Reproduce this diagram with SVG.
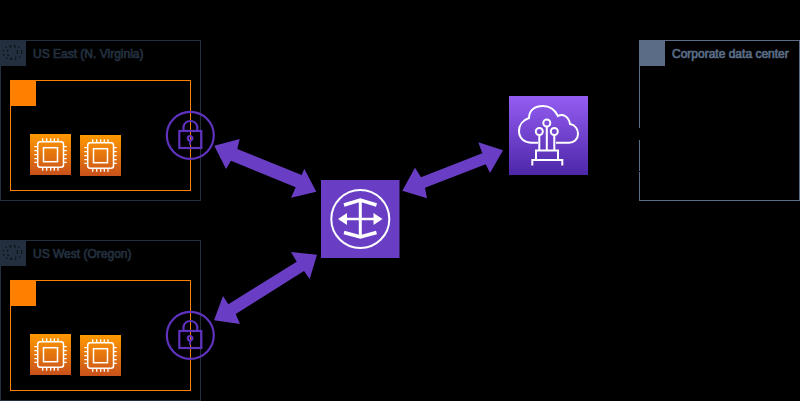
<svg xmlns="http://www.w3.org/2000/svg" width="800" height="401" viewBox="0 0 800 401">
<defs>
<linearGradient id="og" x1="0" y1="1" x2="0" y2="0"><stop offset="0" stop-color="#C8511B"/><stop offset="1" stop-color="#FF9900"/></linearGradient>
<linearGradient id="pg" x1="0" y1="1" x2="0" y2="0"><stop offset="0" stop-color="#4D27A8"/><stop offset="1" stop-color="#945DF2"/></linearGradient>
<g id="chip" fill="none" stroke="#fff">
<rect width="41" height="41" fill="url(#og)" stroke="none"/>
<rect x="7.700" y="7.700" width="25.800" height="25.500" rx="2.500" stroke-width="1.500"/>
<rect x="13.500" y="13.700" width="14" height="14" stroke-width="1.500"/>
<path d="M12.700 7V4.300M16.700 7V4.300M20.700 7V4.300M24.300 7V4.300M28 7V4.300M12.700 34V36.700M16.700 34V36.700M20.700 34V36.700M24.300 34V36.700M28 34V36.700M7 12.700H4.300M7 16.700H4.300M7 20.700H4.300M7 24.700H4.300M7 28.300H4.300M34 12.700H36.700M34 16.700H36.700M34 20.700H36.700M34 24.700H36.700M34 28.300H36.700" stroke-width="1.300"/>
</g>
<g id="lock" fill="none" stroke="#5F33BF" stroke-width="2.200">
<circle cx="0" cy="0" r="23.500"/>
<rect x="-11" y="-4.300" width="22" height="17"/>
<path d="M-6.800 -4.300V-8.500A7 7 0 0 1 7 -8.500V-4.300"/>
<path d="M-0.200 5V9.500" stroke-width="2"/>
<circle cx="-0.200" cy="3" r="2.300"/>
</g>
<g id="globe" fill="none" stroke="#000" stroke-width="1" stroke-dasharray="1.500 3">
<ellipse cx="12.500" cy="12.500" rx="9.500" ry="7"/>
<ellipse cx="12.500" cy="12.500" rx="5" ry="6"/>
</g>
</defs>
<style>
.region{fill:none;stroke:#232F3E}
.vpc{fill:none;stroke:#FF8000}
.lbl{font-family:"Liberation Sans",Arial,sans-serif;font-size:12px;stroke-width:0.700}
.arrow{fill:#6A3EC4}
</style>
<rect width="800" height="401" fill="#000"/>
<g id="region-east">
<rect class="region" x="0.500" y="40.500" width="200" height="160"/>
<rect x="0" y="40" width="26" height="26" fill="#232F3E"/>
<use href="#globe" y="40"/>
<text class="lbl" x="33" y="58" fill="#232F3E" stroke="#232F3E">US East (N. Virginia)</text>
<rect class="vpc" x="10.500" y="80.500" width="180" height="110"/>
<rect x="10" y="80" width="26" height="26" fill="#FF8000"/>
<use href="#chip" x="30" y="134"/>
<use href="#chip" x="80" y="135"/>
<use href="#lock" x="190.300" y="135.300"/>
</g>
<g id="region-west">
<rect class="region" x="0.500" y="240.500" width="200" height="160"/>
<rect x="0" y="240" width="26" height="26" fill="#232F3E"/>
<use href="#globe" y="240"/>
<text class="lbl" x="33" y="258" fill="#232F3E" stroke="#232F3E">US West (Oregon)</text>
<rect class="vpc" x="10.500" y="280.500" width="180" height="110"/>
<rect x="10" y="280" width="26" height="26" fill="#FF8000"/>
<use href="#chip" x="30" y="334"/>
<use href="#chip" x="80" y="335"/>
<use href="#lock" x="190.300" y="335.300"/>
</g>
<g id="corporate">
<rect x="639.500" y="40.500" width="160" height="160" fill="none" stroke="#5A6C86"/>
<rect x="639" y="40" width="26" height="26" fill="#5A6C86"/>
<text class="lbl" x="672" y="58" fill="#5A6C86" stroke="#5A6C86">Corporate data center</text>
<rect x="638" y="128" width="3" height="12" fill="#000"/>
<rect x="638" y="171" width="3" height="1" fill="#000"/>
</g>
<g id="transit-gateway">
<rect x="321" y="180" width="78.500" height="78" fill="#6A3EC4"/>
<g fill="none" stroke="#fff">
<circle cx="360.300" cy="219" r="29" stroke-width="2"/>
<path d="M343 219H378" stroke-width="2.500"/>
<path d="M360.300 202V236" stroke-width="3"/>
<path d="M344 205L360.300 200L376.500 205M344 232.500L360.300 237L376.500 232.500" stroke-width="3.500"/>
</g>
<path d="M338 219L347 213V225ZM382.500 219L373.500 213V225Z" fill="#fff"/>
</g>
<g id="direct-connect">
<rect x="509" y="96" width="79" height="79" fill="url(#pg)"/>
<g fill="none" stroke="#fff" stroke-width="2">
<path d="M538 142.700H532C524 142.700 519 138 519 131C519 125 523 120 529 118C529 110 535 106 543 106C550 106 555 110 558 116C563 113 569 117 570 124C575 125 578 129 578 134C578 139 574 142.700 569 142.700H556"/>
<circle cx="539.300" cy="131.500" r="3.500"/>
<circle cx="546.800" cy="123" r="3.500"/>
<circle cx="554.300" cy="131.500" r="3.500"/>
<path d="M539.300 135V150M546.800 126.500V150M554.300 135V150"/>
<path d="M536 159V150.500H558V159M532.300 165.500V160H562.300V165.500"/>
</g>
</g>
<g id="connectors">
<path class="arrow" d="M214.300 145.700L239.700 139L237.300 149L301.700 175L304.300 168.700L316.300 191.700L291 197.700L295.700 187.300L231 160.700L226 169Z"/>
<path class="arrow" d="M402.300 190.700L415 167.700L421 177.300L482.300 153.300L478.300 142.300L503 150.300L490 173L485.700 164.300L425 187.700L427 198.300Z"/>
<path class="arrow" d="M214 320.300L223 296L228.300 304.300L296.700 261.700L291 252L317 254.700L309.700 279L304 271L235.700 314L240 324Z"/>
</g>
</svg>
